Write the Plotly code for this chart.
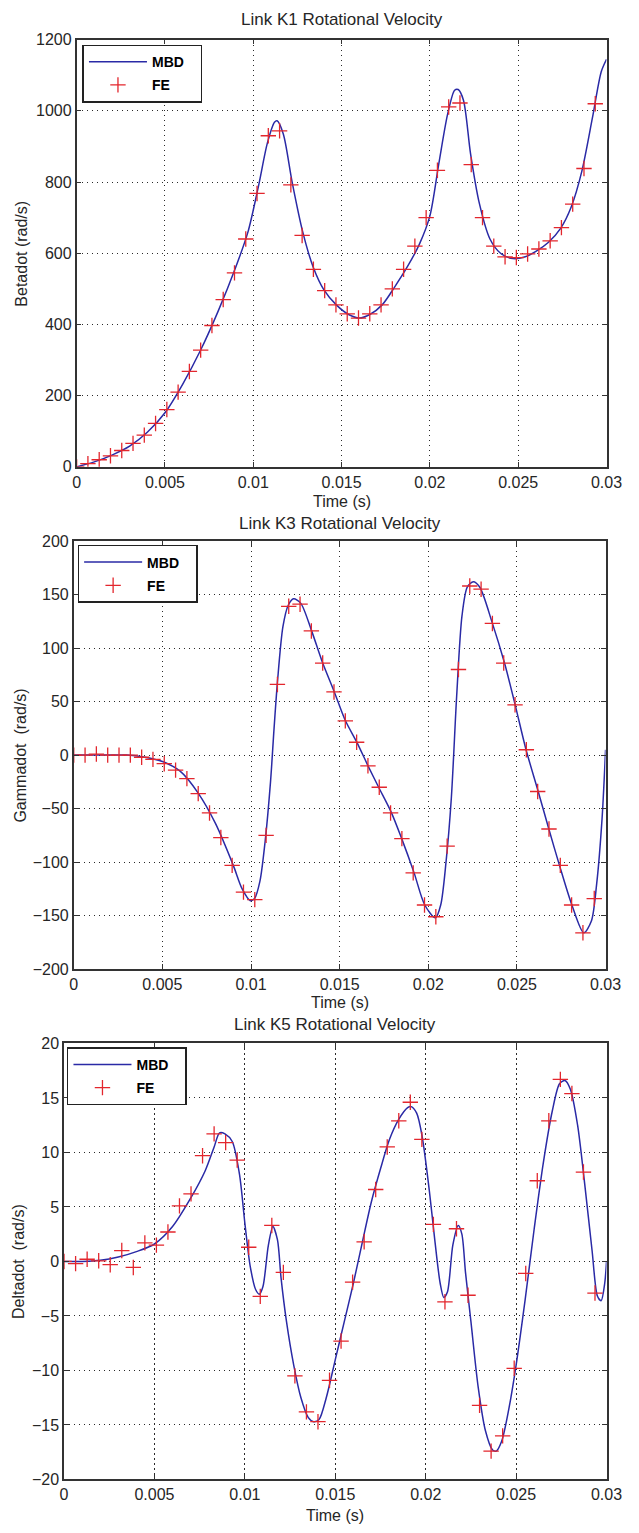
import plotly.graph_objects as go

# ---------------- data ----------------
fe_time = [k * 0.03 / 47 for k in range(47)]

k1_fe = [0, 9, 20, 31, 46, 66, 89, 122, 161, 210, 268, 328, 397, 470, 545, 640,
         768, 930, 944, 792, 650, 555, 495, 455, 430, 418, 430, 455, 500, 555,
         620, 700, 833, 1011, 1022, 849, 700, 620, 590, 588, 598, 612, 635, 672,
         738, 838, 1020]

k1_mbd_t = [0, 0.001, 0.002, 0.003, 0.004, 0.005, 0.006, 0.007, 0.008, 0.009,
            0.0097, 0.0103, 0.0108, 0.0112, 0.01135, 0.0117, 0.0122, 0.0128,
            0.0134, 0.014, 0.0147, 0.0154, 0.016, 0.0166, 0.0173, 0.018, 0.0187,
            0.0194, 0.02, 0.0205, 0.021, 0.0214, 0.0216, 0.0219, 0.0223, 0.0228,
            0.0234, 0.024, 0.0247, 0.0254, 0.026, 0.0267, 0.0274, 0.028, 0.0286,
            0.0292, 0.0297, 0.03]
k1_mbd = [0, 14, 33, 58, 97, 152, 232, 326, 436, 560, 660, 790, 910, 968, 972,
          935, 800, 660, 560, 497, 455, 428, 418, 428, 455, 505, 560, 625, 705,
          850, 990, 1058, 1060, 1030, 880, 740, 640, 600, 585, 590, 605, 630, 670,
          730, 830, 980, 1110, 1145]

k3_fe = [0, 0, 1, 0, 0, 0, -2, -4, -8, -14, -22, -36, -54, -77, -103, -128,
         -135, -75, 66, 139, 141, 116, 86, 59, 32, 12, -10, -30, -54, -78, -110,
         -140, -151, -85, 80, 158, 155, 123, 86, 47, 5, -34, -69, -103, -140,
         -166, -134]

k3_mbd_t = [0, 0.001, 0.002, 0.003, 0.004, 0.005, 0.006, 0.007, 0.008, 0.009,
            0.0095, 0.00996, 0.0102, 0.0105, 0.0108, 0.0111, 0.0113, 0.0115,
            0.0118, 0.0121, 0.0124, 0.0128, 0.0134, 0.014, 0.0147, 0.0153, 0.016,
            0.0166, 0.0172, 0.0179, 0.0185, 0.0192, 0.0198, 0.0204, 0.0207,
            0.021, 0.0213, 0.0216, 0.0219, 0.0222, 0.02254, 0.0229, 0.0236,
            0.0243, 0.0249, 0.0255, 0.0262, 0.0268, 0.0274, 0.0281, 0.02877,
            0.0292, 0.0295, 0.0298, 0.03]
k3_mbd = [0, 0, 0, 0, -2, -6, -15, -35, -64, -103, -125, -136, -134, -118, -80,
          -25, 25, 70, 120, 140, 146, 142, 117, 88, 59, 33, 11, -10, -30, -53,
          -78, -110, -140, -152, -140, -100, -40, 55, 130, 157, 162, 157, 124, 86,
          47, 6, -34, -69, -103, -140, -166, -155, -120, -60, 5]

k5_fe = [0, -0.2, 0.2, 0.06, -0.3, 1.0, -0.55, 1.7, 1.5, 2.7, 5.1, 6.2, 9.7,
         11.7, 10.9, 9.3, 1.3, -3.2, 3.3, -1.0, -10.5, -13.8, -14.7, -10.9, -7.3,
         -1.9, 1.8, 6.6, 10.5, 12.9, 14.6, 11.2, 3.4, -3.7, 3.0, -3.1, -13.2,
         -17.4, -16.0, -9.8, -1.1, 7.4, 12.9, 16.7, 15.4, 8.2, -2.9]

k5_mbd_t = [0, 0.001, 0.002, 0.003, 0.004, 0.005, 0.006, 0.007, 0.0078, 0.0083,
            0.0086, 0.0089, 0.0093, 0.0097, 0.01, 0.0103, 0.0106, 0.0108, 0.011,
            0.0113, 0.01155, 0.0118, 0.012, 0.0123, 0.0127, 0.0131, 0.0135,
            0.0138, 0.0141, 0.0145, 0.015, 0.0155, 0.016, 0.0165, 0.017, 0.0175,
            0.018, 0.0185, 0.019, 0.0192, 0.0195, 0.0198, 0.0202, 0.0205,
            0.0208, 0.021, 0.0212, 0.0215, 0.0218, 0.022, 0.0222, 0.0225, 0.0229,
            0.0233, 0.0237, 0.0239, 0.0242, 0.0246, 0.025, 0.0255, 0.026, 0.0265,
            0.027, 0.0274, 0.0277, 0.028, 0.0284, 0.0288, 0.0292, 0.0295, 0.0297,
            0.0299, 0.03]
k5_mbd = [0, 0, 0.1, 0.4, 0.9, 1.6, 3.2, 5.8, 8.3, 10.5, 11.8, 11.7, 11.0, 8.0,
          3.5, -0.5, -2.6, -3.0, -2.3, 1.5, 3.2, 2.0, -1.5, -5.5, -9.5, -12.5,
          -14.3, -14.7, -14.5, -12.5, -9.0, -5.5, -2.0, 1.8, 5.5, 8.5, 11.2, 13.0,
          14.1, 14.2, 13.6, 11.5, 6.5, 2.0, -2.0, -3.3, -2.8, 1.5, 3.3, 2.5, -1.0,
          -5.5, -11.5, -15.5, -17.3, -17.4, -16.5, -13.5, -9.5, -3.5, 3.0, 9.0,
          13.8, 16.3, 16.6, 15.8, 12.5, 7.0, 1.0, -3.2, -3.6, -2.0, 0]

x_tickvals = [0, 0.005, 0.01, 0.015, 0.02, 0.025, 0.03]
x_ticktext = ["0", "0.005", "0.01", "0.015", "0.02", "0.025", "0.03"]

titles = ["Link K1 Rotational Velocity", "Link K3 Rotational Velocity",
          "Link K5 Rotational Velocity"]
ylabels = ["Betadot (rad/s)", "Gammadot  (rad/s)", "Deltadot  (rad/s)"]
xlabel = "Time (s)"
legend_names = ["MBD", "FE"]
y_ranges = [[0, 1200], [-200, 200], [-20, 20]]
y_dticks = [200, 50, 5]

# ---------------- layout geometry (pixels) ----------------
W, H = 639, 1533
boxes = [  # left, right, top, bottom
    (75, 622, 32, 464),
    (72, 621, 539, 972),
    (62, 622, 1047, 1488),
]
legend_pos = [(81, 37), (76, 543), (65, 1051)]
title_y = [12, 521, 1028]
xlabel_y = [499, 1006, 1524]
ylabel_x = [18, 17, 15]

BLUE = "#2a2aa6"
RED = "#e3262d"
FONT = "Liberation Sans, Arial, sans-serif"
TXT = "#262626"
PAD = "\u00a0\u00a0\u00a0"

fig = go.Figure()
series = [(k1_mbd_t, k1_mbd, k1_fe), (k3_mbd_t, k3_mbd, k3_fe),
          (k5_mbd_t, k5_mbd, k5_fe)]

for i, (mt, mv, fv) in enumerate(series):
    sfx = "" if i == 0 else str(i + 1)
    leg = "legend" + sfx
    fig.add_trace(go.Scatter(
        x=mt, y=mv, mode="lines", name=legend_names[0] + PAD,
        line=dict(color=BLUE, width=1.5, shape="spline", smoothing=0.8),
        xaxis="x" + sfx, yaxis="y" + sfx, legend=leg, legendgroup="a%d" % i,
    ))
    fig.add_trace(go.Scatter(
        x=fe_time, y=fv, mode="markers", name=legend_names[1] + PAD,
        marker=dict(symbol="cross-thin", size=11,
                    line=dict(width=1.3, color=RED), color=RED),
        xaxis="x" + sfx, yaxis="y" + sfx, legend=leg, legendgroup="b%d" % i,
    ))

layout = dict(
    width=W, height=H, autosize=False,
    margin=dict(l=0, r=0, t=0, b=0),
    paper_bgcolor="white", plot_bgcolor="white",
    font=dict(family=FONT, size=16, color=TXT),
    annotations=[],
)

for i in range(3):
    sfx = "" if i == 0 else str(i + 1)
    l, r, t, b = boxes[i]
    xd = [l / W, r / W]
    yd = [1 - b / H, 1 - t / H]
    axis_common = dict(
        showline=True, linecolor="#333333", linewidth=1.6, mirror="ticks",
        ticks="inside", ticklen=5, tickcolor="#333333", tickwidth=1.2,
        showgrid=True, gridcolor="#2a2a2a", gridwidth=1.4, griddash="1.4px,3.6px",
        zeroline=False, tickfont=dict(family=FONT, size=16, color=TXT),
        fixedrange=True,
    )
    layout["xaxis" + sfx] = dict(
        domain=xd, anchor="y" + sfx, range=[0, 0.03],
        tickvals=x_tickvals, ticktext=x_ticktext, **axis_common)
    layout["yaxis" + sfx] = dict(
        domain=yd, anchor="x" + sfx, range=y_ranges[i], dtick=y_dticks[i],
        tick0=y_ranges[i][0], **axis_common)
    lx, ly = legend_pos[i]
    layout["legend" + sfx] = dict(
        x=lx / W, y=1 - ly / H, xanchor="left", yanchor="top",
        xref="paper", yref="paper",
        bgcolor="white", bordercolor="#222222", borderwidth=1.5,
        font=dict(family=FONT, size=14, color="black", weight="bold"),
        tracegroupgap=2, itemwidth=58,
    )
    layout["annotations"].append(dict(
        text=titles[i], x=(l + r) / 2 / W, y=1 - title_y[i] / H,
        xref="paper", yref="paper", showarrow=False,
        xanchor="center", yanchor="middle",
        font=dict(family=FONT, size=17, color=TXT)))
    layout["annotations"].append(dict(
        text=xlabel, x=(l + r) / 2 / W, y=1 - xlabel_y[i] / H,
        xref="paper", yref="paper", showarrow=False,
        xanchor="center", yanchor="middle",
        font=dict(family=FONT, size=16, color=TXT)))
    layout["annotations"].append(dict(
        text=ylabels[i], x=ylabel_x[i] / W, y=1 - (t + b) / 2 / H,
        xref="paper", yref="paper", showarrow=False, textangle=-90,
        xanchor="center", yanchor="middle",
        font=dict(family=FONT, size=16, color=TXT)))

fig.update_layout(**layout)
fig.write_html("out.html")
